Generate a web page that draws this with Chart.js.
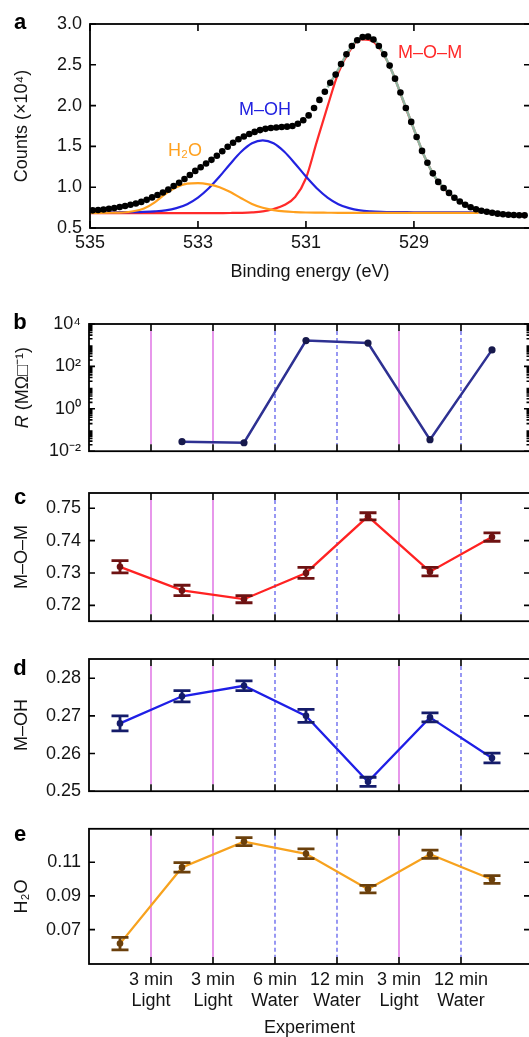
<!DOCTYPE html>
<html>
<head>
<meta charset="utf-8">
<script src="https://cdn.jsdelivr.net/npm/chart.js@4.4.1/dist/chart.umd.min.js"></script>
<style>
  html, body { margin: 0; padding: 0; background: #fff; width: 529px; height: 1037px; overflow: hidden; }
  .panel { position: absolute; left: 0; width: 545px; }
  canvas { display: block; }
</style>
</head>
<body>
<div class="panel" style="top:0;height:300px"><canvas id="chartA"></canvas></div>
<div class="panel" style="top:300px;height:170px"><canvas id="chartB"></canvas></div>
<div class="panel" style="top:470px;height:170px"><canvas id="chartC"></canvas></div>
<div class="panel" style="top:640px;height:170px"><canvas id="chartD"></canvas></div>
<div class="panel" style="top:810px;height:232px"><canvas id="chartE"></canvas></div>
<script>
// ---- panel a: widmo O 1s ----
const dotEnergy = [
  534.95, 534.85, 534.75, 534.65, 534.55, 534.45, 534.35, 534.25, 534.15, 534.05,
  533.95, 533.85, 533.75, 533.65, 533.55, 533.45, 533.35, 533.25, 533.15, 533.05,
  532.95, 532.85, 532.75, 532.65, 532.55, 532.45, 532.35, 532.25, 532.15, 532.05,
  531.95, 531.85, 531.75, 531.65, 531.55, 531.45, 531.35, 531.25, 531.15, 531.05,
  530.95, 530.85, 530.75, 530.65, 530.55, 530.45, 530.35, 530.25, 530.15, 530.05,
  529.95, 529.85, 529.75, 529.65, 529.55, 529.45, 529.35, 529.25, 529.15, 529.05,
  528.95, 528.85, 528.75, 528.65, 528.55, 528.45, 528.35, 528.25, 528.15, 528.05,
  527.95, 527.85, 527.75, 527.65, 527.55, 527.45, 527.35, 527.25, 527.15, 527.05,
  526.95
];
const dotCounts = [
  0.716, 0.721, 0.727, 0.735, 0.745, 0.757, 0.770, 0.785, 0.800, 0.820,
  0.845, 0.875, 0.905, 0.935, 0.970, 1.015, 1.055, 1.100, 1.150, 1.200,
  1.245, 1.290, 1.335, 1.385, 1.440, 1.495, 1.545, 1.587, 1.622, 1.652,
  1.678, 1.700, 1.715, 1.725, 1.732, 1.737, 1.742, 1.750, 1.778, 1.820,
  1.880, 1.970, 2.070, 2.170, 2.280, 2.380, 2.510, 2.630, 2.730, 2.800,
  2.840, 2.845, 2.810, 2.730, 2.630, 2.490, 2.330, 2.160, 1.970, 1.800,
  1.615, 1.445, 1.300, 1.170, 1.065, 0.990, 0.930, 0.870, 0.825, 0.785,
  0.755, 0.730, 0.712, 0.700, 0.687, 0.676, 0.668, 0.662, 0.659, 0.656,
  0.655
];
const fitEnergy = [
  535.0, 534.8, 534.6, 534.4, 534.2, 534.0, 533.8, 533.6, 533.4, 533.2,
  533.0, 532.8, 532.6, 532.4, 532.2, 532.0, 531.8, 531.6, 531.4, 531.2,
  531.0, 530.8, 530.6, 530.4, 530.2, 530.0, 529.8, 529.6, 529.4, 529.2,
  529.0, 528.8, 528.6, 528.4, 528.2, 528.0, 527.8
];
const fitMOM = [
  0.682, 0.682, 0.682, 0.682, 0.682, 0.682, 0.682, 0.682, 0.682, 0.682,
  0.682, 0.682, 0.683, 0.684, 0.686, 0.691, 0.703, 0.733, 0.782, 0.880,
  1.110, 1.555, 1.990, 2.400, 2.660, 2.810, 2.800, 2.670, 2.410, 2.060,
  1.710, 1.370, 1.115, 0.955, 0.845, 0.765, 0.715
];
const fitMOH = [
  0.693, 0.693, 0.693, 0.694, 0.695, 0.698, 0.704, 0.716, 0.743, 0.792,
  0.873, 0.987, 1.130, 1.288, 1.434, 1.538, 1.575, 1.538, 1.434, 1.288,
  1.130, 0.987, 0.873, 0.792, 0.743, 0.716, 0.704, 0.698, 0.695, 0.694,
  0.693, 0.693, 0.693, 0.693, 0.693, 0.693, 0.693
];
const fitH2O = [
  0.686, 0.686, 0.687, 0.690, 0.705, 0.740, 0.815, 0.920, 1.000, 1.043,
  1.050, 1.035, 1.000, 0.940, 0.865, 0.795, 0.748, 0.720, 0.703, 0.695,
  0.690, 0.688, 0.687, 0.686, 0.686, 0.686, 0.686, 0.686, 0.686, 0.686,
  0.686, 0.686, 0.686, 0.686, 0.686, 0.686, 0.686
];
// obwiednia dopasowania (widoczna tylko po prawej stronie piku)
const envEnergy = [530.6, 530.4, 530.2, 530.0, 529.8, 529.6, 529.4, 529.2, 529.0, 528.8, 528.6, 528.4, 528.2, 528.0, 527.8];
const envCounts = [2.225, 2.445, 2.680, 2.825, 2.830, 2.680, 2.410, 2.065, 1.710, 1.370, 1.115, 0.960, 0.845, 0.770, 0.720];
const energyTicks = [535, 533, 531, 529];
const countTicks = [0.5, 1.0, 1.5, 2.0, 2.5, 3.0];

// ---- panele b-e: eksperyment ----
const sampleIdx = [1, 2, 3, 4, 5, 6, 7];
const stepPos = [1.5, 2.5, 3.5, 4.5, 5.5, 6.5];
const stepTime = ["3 min", "3 min", "6 min", "12 min", "3 min", "12 min"];
const stepType = ["Light", "Light", "Water", "Water", "Light", "Water"];

const resistance = [null, 0.028, 0.025, 1660, 1260, 0.035, 600];
const resTicks = [1e-2, 1, 1e2, 1e4];

const momVals = [0.7319, 0.7246, 0.7219, 0.7300, 0.7475, 0.7304, 0.7411];
const momErr = [0.0019, 0.0016, 0.0011, 0.0017, 0.0011, 0.0013, 0.0013];
const momTicks = [0.72, 0.73, 0.74, 0.75];

const mohVals = [0.2680, 0.2752, 0.2780, 0.2700, 0.2525, 0.2696, 0.2588];
const mohErr = [0.0020, 0.0015, 0.0013, 0.0017, 0.0012, 0.0012, 0.0013];
const mohTicks = [0.25, 0.26, 0.27, 0.28];

const h2oVals = [0.0617, 0.1069, 0.1222, 0.1150, 0.0940, 0.1147, 0.0997];
const h2oErr = [0.0037, 0.0028, 0.0024, 0.0029, 0.0022, 0.0024, 0.0023];
const h2oTicks = [0.07, 0.09, 0.11];

const FONT = "'Liberation Sans', Arial, Helvetica, sans-serif";
Chart.defaults.font.family = FONT;
Chart.defaults.font.size = 18;
Chart.defaults.color = "#141414";

const sup = { "-": "\u207B", "0": "\u2070", "1": "\u00B9", "2": "\u00B2", "4": "\u2074" };
const toSup = s => String(s).split("").map(c => sup[c] || c).join("");
const pts = (xs, ys) => xs.map((x, i) => ({ x, y: ys[i] }));

// Ramka, znaczniki osi, separatory, słupki błędów, litery paneli
const framePlugin = {
  id: "frame",
  beforeDatasetsDraw(chart, args, o) {
    if (!o.seps) return;
    const { ctx, chartArea: a, scales: { x } } = chart;
    ctx.save();
    stepPos.forEach((p, i) => {
      const px = x.getPixelForValue(p);
      const water = stepType[i] === "Water";
      ctx.strokeStyle = water ? "#7f7ff0" : "#e27ee6";
      ctx.lineWidth = 1.6;
      ctx.setLineDash(water ? [4, 3] : []);
      ctx.beginPath();
      ctx.moveTo(px, a.top + 7);
      ctx.lineTo(px, a.bottom - 7);
      ctx.stroke();
    });
    ctx.restore();
  },
  afterDatasetsDraw(chart) {
    const { ctx, scales: { y } } = chart;
    chart.data.datasets.forEach((ds, di) => {
      if (!ds.errors) return;
      const meta = chart.getDatasetMeta(di);
      ctx.save();
      ctx.strokeStyle = ds.pointBackgroundColor;
      ctx.lineWidth = 2.8;
      meta.data.forEach((pt, i) => {
        const v = ds.data[i].y, e = ds.errors[i];
        const y1 = y.getPixelForValue(v + e), y2 = y.getPixelForValue(v - e);
        ctx.beginPath();
        ctx.moveTo(pt.x, y1); ctx.lineTo(pt.x, y2);
        ctx.moveTo(pt.x - 8.5, y1); ctx.lineTo(pt.x + 8.5, y1);
        ctx.moveTo(pt.x - 8.5, y2); ctx.lineTo(pt.x + 8.5, y2);
        ctx.stroke();
      });
      ctx.restore();
    });
  },
  afterDraw(chart, args, o) {
    const { ctx, chartArea: a, scales: { x, y } } = chart;
    ctx.save();
    ctx.strokeStyle = "#000";
    ctx.lineWidth = 1.8;
    ctx.strokeRect(a.left, a.top, a.width, a.height);

    // znaczniki osi y (do środka)
    ctx.lineWidth = 1.6;
    ctx.beginPath();
    y.ticks.forEach(t => {
      const py = y.getPixelForValue(t.value);
      ctx.moveTo(a.left, py); ctx.lineTo(a.left + 6, py);
      ctx.moveTo(a.right - 6, py); ctx.lineTo(a.right, py);
    });
    if (o.minor) {
      for (let d = -2; d < 4; d++) {
        for (let k = 2; k < 10; k++) {
          const py = y.getPixelForValue(k * Math.pow(10, d));
          ctx.moveTo(a.left, py); ctx.lineTo(a.left + 3.5, py);
          ctx.moveTo(a.right - 3.5, py); ctx.lineTo(a.right, py);
        }
      }
    }
    // znaczniki osi x
    const xt = o.seps ? stepPos : energyTicks;
    xt.forEach(v => {
      const px = x.getPixelForValue(v);
      ctx.moveTo(px, a.top); ctx.lineTo(px, a.top + 7);
      ctx.moveTo(px, a.bottom); ctx.lineTo(px, a.bottom - 7);
    });
    ctx.stroke();

    // litera panelu
    ctx.fillStyle = "#000";
    ctx.font = "bold 22px " + FONT;
    ctx.textAlign = "center";
    ctx.textBaseline = "middle";
    ctx.fillText(o.letter, 20, o.letterY);

    // opis osi R z kursywą
    if (o.rTitle) {
      ctx.translate(23, (a.top + a.bottom) / 2);
      ctx.rotate(-Math.PI / 2);
      ctx.fillStyle = "#141414";
      const italic = "italic 18px " + FONT, normal = "18px " + FONT;
      const rest = " (M\u03A9\u25A1" + toSup("-1") + ")";
      ctx.font = italic; const w1 = ctx.measureText("R").width;
      ctx.font = normal; const w2 = ctx.measureText(rest).width;
      ctx.textAlign = "left";
      ctx.font = italic; ctx.fillText("R", -(w1 + w2) / 2, 0);
      ctx.font = normal; ctx.fillText(rest, -(w1 + w2) / 2 + w1, 0);
    }
    ctx.restore();

    // podpisy składowych w panelu a
    if (o.labels) {
      ctx.save();
      ctx.font = "18px " + FONT;
      ctx.textAlign = "center";
      ctx.textBaseline = "middle";
      o.labels.forEach(l => {
        ctx.fillStyle = l.color;
        ctx.fillText(l.text, x.getPixelForValue(l.e), y.getPixelForValue(l.c));
      });
      ctx.restore();
    }
  }
};
Chart.register(framePlugin);

function yAxis(extra) {
  return Object.assign({
    afterFit: s => { s.width = 89; },
    grid: { display: false, drawTicks: false },
    border: { display: false },
    ticks: { padding: 8 }
  }, extra);
}

// ---- wykres a ----
new Chart(document.getElementById("chartA"), {
  type: "line",
  data: {
    datasets: [
      { data: pts(dotEnergy, dotCounts), showLine: false, pointRadius: 3.3, pointBackgroundColor: "#000", pointBorderWidth: 0 },
      { data: pts(fitEnergy, fitH2O), borderColor: "#ffa01e", borderWidth: 2.2, pointRadius: 0, cubicInterpolationMode: "monotone" },
      { data: pts(envEnergy, envCounts), borderColor: "#93b5a2", borderWidth: 2.6, pointRadius: 0, cubicInterpolationMode: "monotone" },
      { data: pts(fitEnergy, fitMOH), borderColor: "#2222e0", borderWidth: 2.2, pointRadius: 0, cubicInterpolationMode: "monotone" },
      { data: pts(fitEnergy, fitMOM), borderColor: "#ff2a2a", borderWidth: 2.2, pointRadius: 0, cubicInterpolationMode: "monotone" }
    ]
  },
  options: {
    responsive: true, maintainAspectRatio: false, animation: false,
    layout: { padding: { top: 24, right: 15, left: 0, bottom: 0 } },
    plugins: {
      legend: { display: false }, tooltip: { enabled: false },
      frame: {
        letter: "a", letterY: 23,
        labels: [
          { text: "M\u2013O\u2013M", e: 528.7, c: 2.645, color: "#ff2a2a" },
          { text: "M\u2013OH", e: 531.76, c: 1.946, color: "#2222e0" },
          { text: "H\u2082O", e: 533.24, c: 1.44, color: "#ffa01e" }
        ]
      }
    },
    scales: {
      x: {
        type: "linear", reverse: true, min: 526.85, max: 535,
        afterFit: s => { s.height = 72; },
        afterBuildTicks: s => { s.ticks = energyTicks.map(v => ({ value: v })); },
        grid: { display: false, drawTicks: false }, border: { display: false },
        ticks: { padding: 4, callback: v => String(v) },
        title: { display: true, text: "Binding energy (eV)", padding: { top: 0, bottom: 17 } }
      },
      y: yAxis({
        min: 0.5, max: 3.0,
        afterFit: s => { s.width = 90; },
        afterBuildTicks: s => { s.ticks = countTicks.map(v => ({ value: v })); },
        ticks: { padding: 8, callback: v => v.toFixed(1) },
        title: { display: true, text: "Counts (\u00D710" + toSup("4") + ")", padding: { top: 11, bottom: 0 } }
      })
    }
  }
});

// ---- wykres b ----
new Chart(document.getElementById("chartB"), {
  type: "line",
  data: {
    datasets: [{
      data: pts(sampleIdx, resistance), borderColor: "#2e3192", borderWidth: 2.5,
      pointRadius: 3.6, pointBackgroundColor: "#17194c", pointBorderWidth: 0, spanGaps: false
    }]
  },
  options: {
    responsive: true, maintainAspectRatio: false, animation: false,
    layout: { padding: { top: 24, right: 15, left: 0, bottom: 10 } },
    plugins: { legend: { display: false }, tooltip: { enabled: false }, frame: { letter: "b", letterY: 23, seps: true, minor: true, rTitle: true } },
    scales: {
      x: { type: "linear", min: 0.5, max: 7.613, display: false },
      y: yAxis({
        type: "logarithmic", min: 1e-2, max: 1e4,
        afterBuildTicks: s => { s.ticks = resTicks.map(v => ({ value: v })); },
        ticks: { padding: 8, callback: v => "10" + toSup(Math.round(Math.log10(v))) }
      })
    }
  }
});

// ---- wykresy c, d, e ----
function expChart(id, o) {
  const isLast = !!o.bottomAxis;
  return new Chart(document.getElementById(id), {
    type: "line",
    data: {
      datasets: [{
        data: pts(sampleIdx, o.vals), errors: o.err,
        borderColor: o.line, borderWidth: 2.3,
        pointRadius: 3.3, pointBackgroundColor: o.mark, pointBorderWidth: 0
      }]
    },
    options: {
      responsive: true, maintainAspectRatio: false, animation: false,
      layout: { padding: { top: o.top, right: 15, left: 0, bottom: isLast ? 0 : o.bottom } },
      plugins: { legend: { display: false }, tooltip: { enabled: false }, frame: { letter: o.letter, letterY: o.letterY, seps: true } },
      scales: {
        x: isLast ? {
          type: "linear", min: 0.5, max: 7.613,
          afterFit: s => { s.height = o.bottom; },
          afterBuildTicks: s => { s.ticks = stepPos.map(v => ({ value: v })); },
          grid: { display: false, drawTicks: false }, border: { display: false },
          ticks: { padding: 5, autoSkip: false, maxRotation: 0, callback: (v, i) => [stepTime[i], stepType[i]] },
          title: { display: true, text: "Experiment", padding: { top: 0, bottom: 3 } }
        } : { type: "linear", min: 0.5, max: 7.613, display: false },
        y: yAxis({
          min: o.min, max: o.max,
          afterBuildTicks: s => { s.ticks = o.ticks.map(v => ({ value: v })); },
          ticks: { padding: 8, callback: v => v.toFixed(2) },
          title: { display: true, text: o.title, padding: { top: 11, bottom: 0 } }
        })
      }
    }
  });
}

expChart("chartC", { vals: momVals, err: momErr, ticks: momTicks, min: 0.7151, max: 0.7547,
  line: "#ff2222", mark: "#6e1212", title: "M\u2013O\u2013M", letter: "c", letterY: 28, top: 23, bottom: 12 });
expChart("chartD", { vals: mohVals, err: mohErr, ticks: mohTicks, min: 0.25, max: 0.2851,
  line: "#1f1fe6", mark: "#151c6a", title: "M\u2013OH", letter: "d", letterY: 29, top: 19, bottom: 15 });
expChart("chartE", { vals: h2oVals, err: h2oErr, ticks: h2oTicks, min: 0.0496, max: 0.1298,
  line: "#f7a21e", mark: "#6b400c", title: "H\u2082O", letter: "e", letterY: 25, top: 18, bottom: 78, bottomAxis: true });
</script>
</body>
</html>
